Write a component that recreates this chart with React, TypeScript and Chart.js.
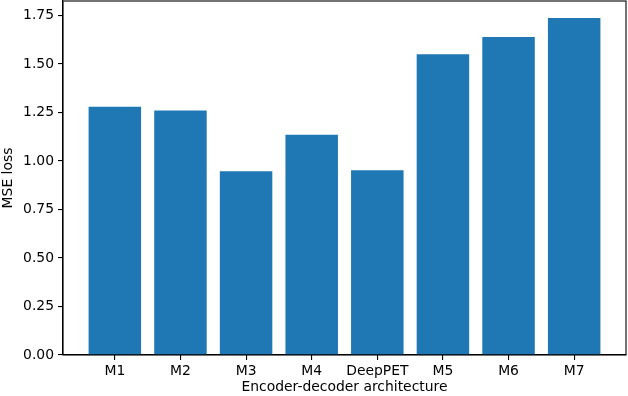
import React, { useEffect, useRef } from "react";
import { Chart, registerables } from "chart.js";

Chart.register(...registerables);

const categories = ["M1", "M2", "M3", "M4", "DeepPET", "M5", "M6", "M7"];
const mseLoss = [1.28, 1.261, 0.947, 1.136, 0.952, 1.551, 1.639, 1.737];
const yTicks = [0, 0.25, 0.5, 0.75, 1.0, 1.25, 1.5, 1.75];

const FONT = "'DejaVu Sans', sans-serif";

const framePlugin = {
  id: "frame",
  afterDraw(chart: any) {
    const { ctx, chartArea } = chart;
    ctx.save();
    ctx.strokeStyle = "#000";
    ctx.lineWidth = 1.1;
    ctx.strokeRect(chartArea.left, chartArea.top, chartArea.right - chartArea.left, chartArea.bottom - chartArea.top);
    ctx.restore();
  },
};

export default function App() {
  const ref = useRef<HTMLCanvasElement>(null);
  useEffect(() => {
    if (!ref.current) return;
    const chart = new Chart(ref.current, {
      type: "bar",
      data: {
        datasets: [
          {
            data: mseLoss.map((v, i) => ({ x: i, y: v })),
            backgroundColor: "#1f77b4",
            borderWidth: 0,
            categoryPercentage: 1,
            barPercentage: 0.8,
          },
        ],
      },
      plugins: [framePlugin],
      options: {
        animation: false,
        responsive: false,
        maintainAspectRatio: false,
        layout: { padding: { top: 1, right: 2, left: 0, bottom: 0 } },
        plugins: { legend: { display: false }, tooltip: { enabled: false } },
        scales: {
          x: {
            type: "linear",
            min: -0.79,
            max: 7.79,
            offset: false,
            grid: { offset: false, drawOnChartArea: false, drawTicks: true, tickLength: 5, color: "#000", lineWidth: 1.1 },
            border: { display: true, color: "#000", width: 1.1 },
            afterBuildTicks: (scale: any) => {
              scale.ticks = categories.map((_, i) => ({ value: i }));
            },
            afterFit: (scale: any) => {
              scale.height = 41;
              scale.paddingLeft = 0;
              scale.paddingRight = 0;
            },
            ticks: {
              autoSkip: false,
              maxRotation: 0,
              padding: 3,
              color: "#000",
              font: { family: FONT, size: 13.9 },
              callback: (v: any) => categories[Math.round(Number(v))] ?? "",
            },
            title: {
              display: true,
              text: "Encoder-decoder architecture",
              color: "#000",
              font: { family: FONT, size: 13.9 },
              padding: { top: 0, bottom: 0 },
            },
          },
          y: {
            type: "linear",
            min: 0,
            max: 1.825,
            grid: { drawOnChartArea: false, drawTicks: true, tickLength: 5, color: "#000", lineWidth: 1.1 },
            border: { display: true, color: "#000", width: 1.1 },
            afterBuildTicks: (scale: any) => {
              scale.ticks = yTicks.map((v) => ({ value: v }));
            },
            afterFit: (scale: any) => {
              scale.width = 63;
              scale.paddingTop = 0;
              scale.paddingBottom = 0;
            },
            ticks: {
              padding: 4,
              color: "#000",
              font: { family: FONT, size: 13.9 },
              callback: (v: any) => Number(v).toFixed(2),
            },
            title: {
              display: true,
              text: "MSE loss",
              color: "#000",
              font: { family: FONT, size: 13.9 },
              padding: { top: 0, bottom: 0 },
            },
          },
        },
      },
    } as any);
    return () => chart.destroy();
  }, []);
  return (
    <div style={{ position: "fixed", left: 0, top: 0, width: 628, height: 396, background: "#fff" }}>
      <canvas ref={ref} width={628} height={396} style={{ width: 628, height: 396 }} />
    </div>
  );
}
